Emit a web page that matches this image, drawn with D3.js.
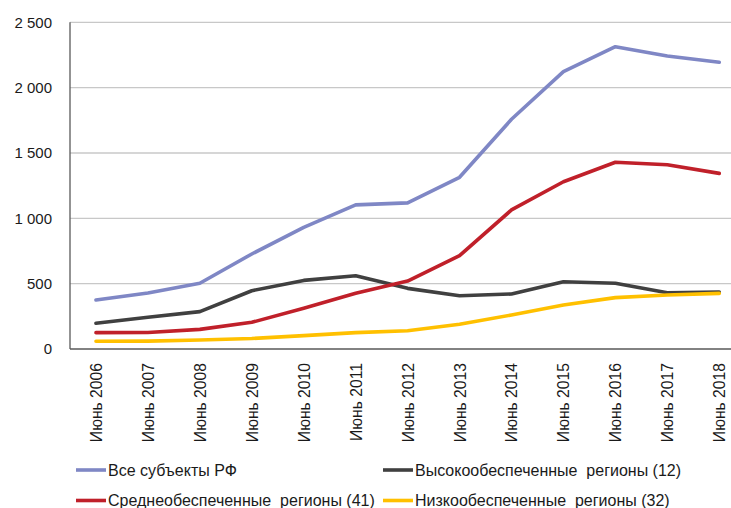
<!DOCTYPE html>
<html><head><meta charset="utf-8">
<script src="https://cdn.jsdelivr.net/npm/d3@7"></script>
<style>html,body{margin:0;padding:0;background:#fff;overflow:hidden}</style>
</head><body><svg id="c" width="731" height="508"></svg>
<script>
const categories = ["Июнь 2006","Июнь 2007","Июнь 2008","Июнь 2009","Июнь 2010","Июнь 2011","Июнь 2012","Июнь 2013","Июнь 2014","Июнь 2015","Июнь 2016","Июнь 2017","Июнь 2018"];
const allRegions = [375, 428, 503, 727, 931, 1103, 1118, 1314, 1758, 2122, 2313, 2242, 2194];
const highRegions = [197, 243, 286, 446, 525, 561, 464, 408, 421, 515, 503, 431, 436];
const midRegions = [125, 126, 150, 204, 311, 426, 520, 714, 1064, 1280, 1429, 1410, 1344];
const lowRegions = [59, 60, 69, 80, 102, 125, 140, 189, 260, 337, 393, 413, 426];
const seriesNames = ["Все субъекты РФ","Высокообеспеченные  регионы (12)","Среднеобеспеченные  регионы (41)","Низкообеспеченные  регионы (32)"];
const seriesColors = ["#7f87c5","#404040","#c0202a","#ffc000"];
const yTicks = [0, 500, 1000, 1500, 2000, 2500];
const yTickLabels = ["0","500","1 000","1 500","2 000","2 500"];

const seriesData = [allRegions, highRegions, midRegions, lowRegions];
const svg = d3.select("#c");
const font = "'Liberation Sans', Arial, sans-serif";
const plotLeft = 70, bandW = 51.94, plotTop = 22.3, plotBottom = 349;
const x = d3.scaleBand().domain(categories).range([plotLeft, plotLeft + bandW * categories.length]);
const y = d3.scaleLinear().domain([0, 2500]).range([plotBottom, plotTop]);

// gridlines
svg.append("g").selectAll("line").data(yTicks.filter(d => d > 0)).join("line")
  .attr("x1", plotLeft).attr("x2", x.range()[1])
  .attr("y1", d => y(d)).attr("y2", d => y(d))
  .attr("stroke", "#c8c8c8").attr("stroke-width", 1.3);

// y labels
svg.append("g").selectAll("text").data(yTicks).join("text")
  .attr("x", 52).attr("y", d => y(d)).attr("dy", "0.36em")
  .attr("text-anchor", "end").attr("font-family", font).attr("font-size", 15).attr("fill", "#1a1a1a")
  .text((d, i) => yTickLabels[i]);

// axes lines
svg.append("line").attr("x1", plotLeft).attr("x2", plotLeft).attr("y1", plotTop).attr("y2", plotBottom)
  .attr("stroke", "#595959").attr("stroke-width", 1.3);
svg.append("line").attr("x1", plotLeft).attr("x2", x.range()[1]).attr("y1", plotBottom).attr("y2", plotBottom)
  .attr("stroke", "#595959").attr("stroke-width", 1.3);

// x labels
svg.append("g").selectAll("text").data(categories).join("text")
  .attr("transform", d => `translate(${x(d) + x.bandwidth() / 2 + 6},${363}) rotate(-90)`)
  .attr("text-anchor", "end").attr("font-family", font).attr("font-size", 15.7).attr("fill", "#1a1a1a")
  .text(d => d);

// lines
const line = d3.line().x((d, i) => x(categories[i]) + x.bandwidth() / 2).y(d => y(d));
svg.append("g").selectAll("path").data(seriesData).join("path")
  .attr("d", d => line(d)).attr("fill", "none")
  .attr("stroke", (d, i) => seriesColors[i]).attr("stroke-width", 3.6)
  .attr("stroke-linejoin", "round").attr("stroke-linecap", "round");

// legend
const legPos = [[76, 470], [383, 470], [76, 500.5], [383, 500.5]];
const lg = svg.append("g").selectAll("g").data(seriesNames).join("g")
  .attr("transform", (d, i) => `translate(${legPos[i][0]},${legPos[i][1]})`);
lg.append("line").attr("x1", 0).attr("x2", 30).attr("y1", 0).attr("y2", 0)
  .attr("stroke", (d, i) => seriesColors[i]).attr("stroke-width", 3.6);
lg.append("text").attr("x", 32).attr("dy", "0.36em")
  .attr("font-family", font).attr("font-size", 16).attr("fill", "#1a1a1a")
  .style("white-space", "pre").text(d => d);
</script></body></html>
